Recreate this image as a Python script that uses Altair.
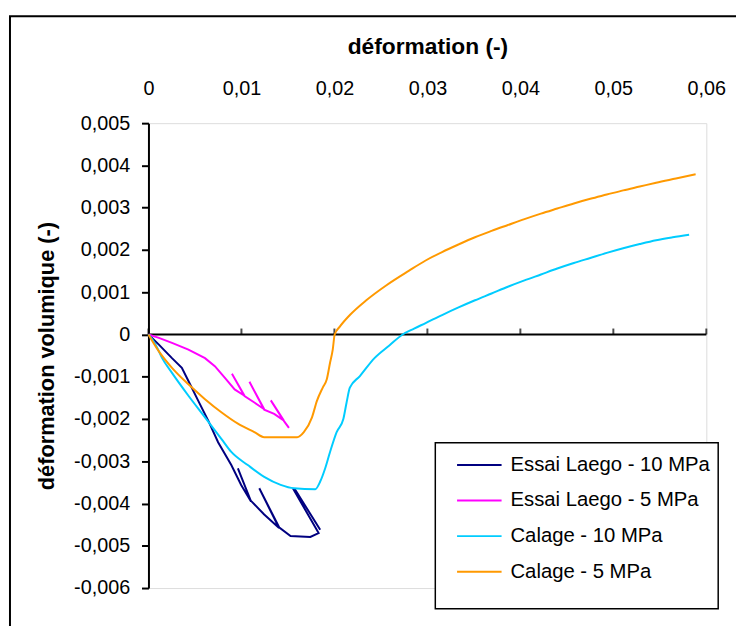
import altair as alt
import pandas as pd

series_names = ["Essai Laego - 10 MPa", "Essai Laego - 5 MPa", "Calage - 10 MPa", "Calage - 5 MPa"]
series_colors = ["#000080", "#FF00FF", "#00CCFF", "#FF9900"]

# Essai Laego - 10 MPa (with unload/reload loops)
laego10_x = [0.0, 0.00112, 0.00253, 0.00359, 0.00430, 0.00536, 0.00643, 0.00749, 0.00891, 0.00997,
             0.01103, 0.00962, 0.01100, 0.01245, 0.01405, 0.01192, 0.01408, 0.01528, 0.01741, 0.01830,
             0.01564, 0.01580, 0.01847]
laego10_y = [0.0, -0.00024, -0.00056, -0.00079, -0.00110, -0.00157, -0.00204, -0.00255, -0.00309, -0.00356,
             -0.00395, -0.00317, -0.00393, -0.00426, -0.00458, -0.00364, -0.00457, -0.00477, -0.00479, -0.00470,
             -0.00368, -0.00368, -0.00462]

# Essai Laego - 5 MPa (with unload/reload loops)
laego5_x = [0.0, 0.00112, 0.00253, 0.00430, 0.00608, 0.00714, 0.00820, 0.00927, 0.01033, 0.00898,
            0.01033, 0.01139, 0.01245, 0.01086, 0.01245, 0.01352, 0.01458, 0.01316, 0.01458, 0.01511]
laego5_y = [0.0, -0.00008, -0.00020, -0.00036, -0.00056, -0.00075, -0.00102, -0.00130, -0.00145, -0.00093,
            -0.00146, -0.00161, -0.00177, -0.00112, -0.00178, -0.00188, -0.00204, -0.00156, -0.00205, -0.00221]

# Calage - 10 MPa
calage10_x = [0.0, 0.00077, 0.00147, 0.00253, 0.00430, 0.00608, 0.00784, 0.00891, 0.01068, 0.01245,
              0.01422, 0.01564, 0.01794, 0.01847, 0.01900, 0.01953, 0.02024, 0.02096, 0.02131, 0.02166,
              0.02272, 0.02431, 0.02591, 0.02733, 0.02857, 0.02981, 0.03158, 0.03335, 0.03512, 0.03690,
              0.03866, 0.04044, 0.04221, 0.04397, 0.04575, 0.04752, 0.04929, 0.05106, 0.05284, 0.05460,
              0.05638, 0.05815]
calage10_y = [0.0, -0.00024, -0.00056, -0.00091, -0.00145, -0.00196, -0.00247, -0.00278, -0.00309, -0.00337,
              -0.00356, -0.00364, -0.00366, -0.00348, -0.00317, -0.00278, -0.00231, -0.00200, -0.00161, -0.00126,
              -0.00099, -0.00056, -0.00026, 0.0, 0.00014, 0.00027, 0.00046, 0.00064, 0.00081, 0.00097,
              0.00113, 0.00128, 0.00142, 0.00156, 0.00169, 0.00181, 0.00193, 0.00204, 0.00214, 0.00223,
              0.00230, 0.00236]

# Calage - 5 MPa
calage5_x = [0.0, 0.00112, 0.00253, 0.00430, 0.00608, 0.00784, 0.00962, 0.01139, 0.01245, 0.01599,
             0.01671, 0.01759, 0.01812, 0.01876, 0.01918, 0.01953, 0.01982, 0.02003, 0.02060, 0.02166,
             0.02343, 0.02556, 0.02803, 0.02981, 0.03158, 0.03335, 0.03512, 0.03690, 0.03866, 0.04044,
             0.04221, 0.04397, 0.04575, 0.04752, 0.04929, 0.05106, 0.05284, 0.05460, 0.05673, 0.05885]
calage5_y = [0.0, -0.00040, -0.00079, -0.00118, -0.00153, -0.00184, -0.00211, -0.00231, -0.00243, -0.00243,
             -0.00231, -0.00196, -0.00157, -0.00125, -0.00106, -0.00067, -0.00036, 0.0, 0.00019, 0.00046,
             0.00081, 0.00116, 0.00151, 0.00175, 0.00195, 0.00213, 0.00230, 0.00245, 0.00259, 0.00273,
             0.00286, 0.00298, 0.00310, 0.00321, 0.00331, 0.00341, 0.00350, 0.00359, 0.00369, 0.00379]

x_ticks = [0, 0.01, 0.02, 0.03, 0.04, 0.05, 0.06]
y_ticks = [0.005, 0.004, 0.003, 0.002, 0.001, 0, -0.001, -0.002, -0.003, -0.004, -0.005, -0.006]

rows = []
for name, xs, ys in zip(series_names,
                        [laego10_x, laego5_x, calage10_x, calage5_x],
                        [laego10_y, laego5_y, calage10_y, calage5_y]):
    for i, (xv, yv) in enumerate(zip(xs, ys)):
        rows.append({"series": name, "x": xv, "y": yv, "i": i,
                     "test": name.startswith("Essai")})
df = pd.DataFrame(rows)

FONT = "Liberation Sans"
label_expr = "replace(toString(datum.value), '.', ',')"

xscale = alt.Scale(domain=[x_ticks[0], x_ticks[-1]], nice=False, zero=False)
yscale = alt.Scale(domain=[y_ticks[-1], y_ticks[0]], nice=False, zero=False)

x_enc = alt.X("x:Q", scale=xscale, axis=alt.Axis(
    orient="top", values=x_ticks, labelExpr=label_expr, domain=False, ticks=False,
    grid=False, labelFlush=False, labelOverlap=False, labelFont=FONT, labelFontSize=20,
    labelColor="black", labelPadding=25, title="déformation (-)", titleFont=FONT,
    titleFontSize=23, titleFontWeight="bold", titleColor="black", titlePadding=20))
y_enc = alt.Y("y:Q", scale=yscale, axis=alt.Axis(
    values=y_ticks, labelExpr=label_expr, grid=False, tickSize=7, tickWidth=2,
    tickColor="black", domainColor="black", domainWidth=2, labelFont=FONT, labelFontSize=20,
    labelColor="black", labelPadding=12, labelOverlap=False, labelFlush=False,
    title="déformation volumique (-)", titleFont=FONT, titleFontSize=22,
    titleFontWeight="bold", titleColor="black", titlePadding=15))
color_enc = alt.Color("series:N", sort=series_names,
                      scale=alt.Scale(domain=series_names, range=series_colors),
                      legend=alt.Legend(
                          title=None, orient="none", legendX=290, legendY=322,
                          padding=0, symbolType="stroke", symbolSize=2025, symbolStrokeWidth=2,
                          symbolOffset=21, labelOffset=8, rowPadding=2,
                          labelFont=FONT, labelFontSize=20.5, labelColor="black", labelLimit=400))

# outer chart frame (pixel decoration)
border = alt.Chart(pd.DataFrame({"k": [0]})).mark_rect(
    fillOpacity=0, stroke="black", strokeWidth=2
).encode(
    x=alt.value(-140), x2=alt.value(900), y=alt.value(-108), y2=alt.value(900)
)

base = alt.Chart(df)
lines_test = base.transform_filter("datum.test").mark_line(strokeWidth=2).encode(
    x=x_enc, y=y_enc, color=color_enc, order="i:Q")
lines_model = base.transform_filter("!datum.test").mark_line(
    strokeWidth=2, interpolate="monotone").encode(
    x=x_enc, y=y_enc, color=color_enc, order="i:Q")

# legend frame (pixel decoration)
legend_box = alt.Chart(pd.DataFrame({"k": [0]})).mark_rect(
    fill="white", stroke="black", strokeWidth=1.5
).encode(
    x=alt.value(290), x2=alt.value(576), y=alt.value(323), y2=alt.value(491)
)

axis_line = alt.Chart(pd.DataFrame({"x": [x_ticks[0]], "x2": [x_ticks[-1]], "y": [0]})).mark_rule(
    color="black", strokeWidth=2
).encode(x="x:Q", x2="x2:Q", y="y:Q")

axis_ticks = alt.Chart(pd.DataFrame({"x": x_ticks, "y": [0] * len(x_ticks)})).mark_tick(
    orient="vertical", size=6, thickness=2, color="black", yOffset=-3
).encode(x="x:Q", y="y:Q")

chart = alt.layer(border, axis_line, axis_ticks, lines_test, lines_model, legend_box).properties(
    width=564, height=470,
    autosize=alt.AutoSizeParams(type="none"),
    padding={"left": 142, "top": 113, "right": 30, "bottom": 40},
).configure_view(stroke=None).configure(background="white")

chart.save("out.html", embed_options={"renderer": "svg", "actions": False})
